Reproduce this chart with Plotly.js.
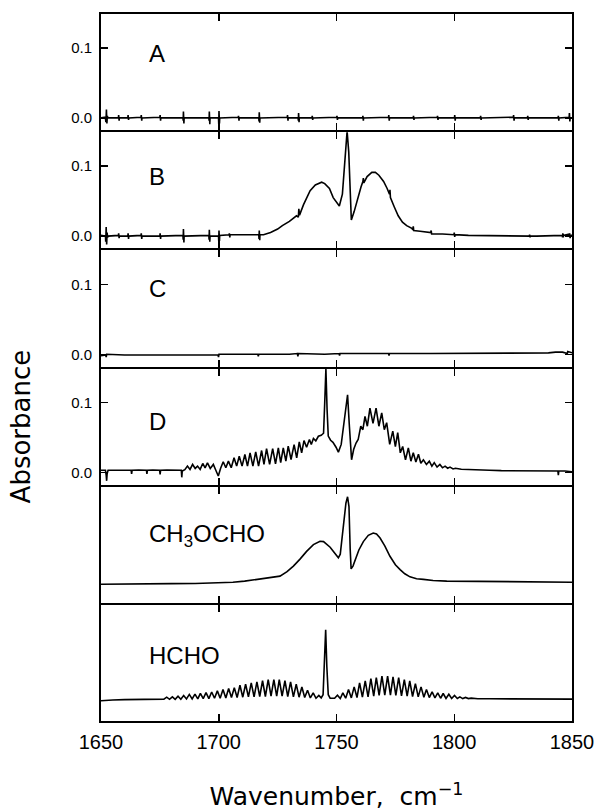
<!DOCTYPE html>
<html>
<head>
<meta charset="utf-8">
<script src="https://cdn.plot.ly/plotly-3.0.1.min.js"></script>
<style>html,body{margin:0;padding:0;background:#fff;}#chart{width:595px;height:811px;}</style>
</head>
<body>
<div id="chart"></div>
<script>
// ---- data: [wavenumber (cm^-1), absorbance] ----
const panelA = [[1650,0],[1651.8,0.001],[1652.1,-0.006],[1652.3,0.012],[1652.5,-0.008],[1652.7,0.003],[1652.9,0],[1657.4,0],[1657.5,0.004],[1657.7,-0.004],[1657.8,0],[1661.4,0],[1661.5,0.004],[1661.7,-0.003],[1661.8,0],[1667.0,0.001],[1667.1,0.004],[1667.3,-0.004],[1667.4,0],[1675.0,0.001],[1675.1,0.004],[1675.3,-0.004],[1675.4,0],[1684.8,0],[1684.9,-0.004],[1685.0,0.009],[1685.2,-0.008],[1685.3,0],[1695.8,0],[1695.9,-0.004],[1696.0,0.009],[1696.2,-0.009],[1696.3,0],[1699.9,0],[1700.0,-0.009],[1700.1,0.01],[1700.3,-0.008],[1700.4,0],[1708.3,0.001],[1708.4,0.003],[1708.6,-0.004],[1708.7,0],[1717.0,0],[1717.1,-0.005],[1717.2,0.008],[1717.4,-0.007],[1717.5,0],[1729.1,0.001],[1729.2,0.004],[1729.4,-0.004],[1729.5,0],[1733.7,0],[1733.8,-0.004],[1733.9,0.007],[1734.1,-0.006],[1734.2,0],[1739.6,0],[1739.7,0.003],[1739.9,-0.003],[1740,0],[1750.1,0.001],[1750.2,0.003],[1750.4,-0.003],[1750.5,0],[1761.1,0],[1761.2,0.003],[1761.4,-0.004],[1761.5,0],[1772.1,0.001],[1772.2,0.004],[1772.4,-0.004],[1772.5,0],[1782.6,0],[1782.7,0.003],[1782.9,-0.003],[1783,0],[1792.8,0.001],[1792.9,0.003],[1793.1,-0.003],[1793.2,0],[1800.1,0],[1800.2,0.004],[1800.4,-0.004],[1800.5,0],[1811.1,0],[1811.2,0.003],[1811.4,-0.003],[1811.5,0],[1825.1,0.001],[1825.2,0.004],[1825.4,-0.004],[1825.5,0],[1831.1,0],[1831.2,0.003],[1831.4,-0.003],[1831.5,0],[1844.1,0],[1844.2,0.003],[1844.4,-0.004],[1844.5,0],[1848.8,0.001],[1848.9,0.007],[1849.1,-0.005],[1849.2,0],[1850,0]];

const panelB = [[1650,0.001],[1651.9,0],[1652.0,-0.008],[1652.2,0.013],[1652.4,-0.012],[1652.6,0.005],[1652.8,-0.002],[1653,0],[1657.4,0.001],[1657.5,0.004],[1657.7,-0.003],[1657.8,0],[1661.4,0],[1661.5,0.004],[1661.7,-0.004],[1661.8,0],[1667.0,0.001],[1667.1,0.004],[1667.3,-0.004],[1667.4,0],[1675.0,0],[1675.1,0.004],[1675.3,-0.004],[1675.4,0],[1684.8,0.001],[1684.9,-0.005],[1685.0,0.01],[1685.2,-0.009],[1685.3,0],[1695.8,0.001],[1695.9,-0.005],[1696.0,0.009],[1696.2,-0.008],[1696.3,0],[1699.9,0],[1700.0,-0.007],[1700.1,0.008],[1700.3,-0.007],[1700.4,0.001],[1704.4,0.002],[1704.5,0.004],[1704.7,-0.002],[1704.8,0.002],[1710,0.002],[1714,0.002],[1717.0,0.002],[1717.1,-0.004],[1717.2,0.008],[1717.4,-0.006],[1717.5,0.002],[1719,0.002],[1722,0.005],[1725,0.01],[1727,0.015],[1730,0.021],[1733,0.029],[1733.8,0.027],[1734.0,0.039],[1734.3,0.03],[1736,0.045],[1738.8,0.065],[1741,0.073],[1743.7,0.077],[1745,0.075],[1747,0.068],[1748.6,0.055],[1750.3,0.047],[1751.2,0.043],[1752.5,0.06],[1753.6,0.11],[1754.5,0.15],[1755.2,0.12],[1755.8,0.05],[1756.3,0.023],[1757.5,0.035],[1759,0.055],[1760.4,0.07],[1761.2,0.078],[1761.4,0.083],[1761.6,0.076],[1763,0.085],[1765,0.091],[1766.5,0.091],[1768,0.087],[1770,0.078],[1771.5,0.068],[1772.5,0.06],[1772.7,0.066],[1772.9,0.055],[1774.5,0.042],[1776.2,0.029],[1778,0.02],[1779.8,0.015],[1782,0.011],[1782.4,0.009],[1782.6,0.014],[1782.8,0.008],[1785.5,0.007],[1789,0.006],[1790,0.005],[1790.2,0.008],[1790.4,0.003],[1795,0.003],[1799.9,0.002],[1800.0,0.005],[1800.2,-0.001],[1800.3,0.002],[1806,0.001],[1810,0.001],[1815,0],[1820,0.001],[1825,0],[1831.9,0],[1832.0,0.002],[1832.2,-0.002],[1832.3,0],[1835,0],[1840,0],[1845.9,0.001],[1846.0,-0.002],[1846.1,0.004],[1846.3,-0.002],[1846.4,0.001],[1848.9,0.002],[1849.0,0.003],[1849.2,-0.003],[1849.3,0.001],[1850,0.001]];

const panelC = [[1650,-0.002],[1652,-0.001],[1652.2,-0.004],[1652.4,0],[1660,-0.001],[1670,-0.001],[1680,-0.001],[1690,-0.001],[1699.7,-0.001],[1699.9,-0.004],[1700.1,0],[1710,0],[1716.6,0],[1716.8,-0.003],[1717.0,0],[1730,0],[1733.4,0.001],[1733.6,-0.003],[1733.8,0.001],[1745,0],[1751.1,0.001],[1751.3,-0.002],[1751.5,0.001],[1765,0.001],[1772.1,0.001],[1772.3,-0.002],[1772.5,0.001],[1790,0.001],[1810,0.001],[1830,0.001],[1840,0.002],[1843,0.003],[1846,0.003],[1848,0.001],[1848.2,0.004],[1850,0.002]];

const panelD = [[1650,0.003],[1651.9,0.003],[1652.2,-0.004],[1652.4,-0.012],[1652.6,-0.002],[1653.0,0.003],[1656,0.003],[1660,0.0035],[1662.8,0.003],[1663,-0.002],[1663.2,0.003],[1666,0.0035],[1669.3,0.003],[1669.5,-0.002],[1669.7,0.003],[1672,0.0035],[1674.9,0.003],[1675.1,-0.003],[1675.3,0.003],[1678,0.0035],[1681,0.003],[1684.1,0.003],[1684.3,-0.007],[1684.5,0.002],[1685.6,0.004],[1686.7,0.009],[1687.8,0.0043],[1688.9,0.0114],[1690,0.0057],[1691.0,0.009],[1692.1,0.0043],[1693.2,0.0128],[1694.2,0.0066],[1695.2,0.0137],[1696.4,0.0057],[1697.7,0.0114],[1698.8,0.0028],[1699.8,-0.0052],[1700.8,0.006],[1701.9,0.0152],[1703,0.0066],[1704.1,0.0161],[1705.3,0.0066],[1706.5,0.0209],[1707.6,0.009],[1708.7,0.0232],[1709.9,0.009],[1711.1,0.0256],[1712.2,0.009],[1713.3,0.028],[1714.5,0.009],[1715.7,0.0294],[1716.9,0.009],[1718.2,0.0313],[1719.2,0.0114],[1720.3,0.0341],[1721.6,0.0114],[1722.9,0.0341],[1724.1,0.0123],[1725.3,0.0351],[1726.3,0.014],[1727.4,0.0351],[1728.5,0.0161],[1729.5,0.0375],[1730.7,0.0185],[1732.0,0.0398],[1733.1,0.0209],[1734.2,0.0436],[1735.2,0.028],[1736.2,0.0455],[1737.3,0.036],[1738.5,0.047],[1739.3,0.040],[1740.2,0.0484],[1741.2,0.045],[1742.3,0.0517],[1743.5,0.053],[1744.5,0.056],[1745.0,0.10],[1745.5,0.148],[1746.0,0.09],[1746.5,0.052],[1747.5,0.046],[1748.5,0.043],[1749.8,0.036],[1750.8,0.029],[1752,0.04],[1753.3,0.075],[1754.7,0.111],[1755.4,0.07],[1756.4,0.018],[1757.3,0.033],[1758.3,0.042],[1759.2,0.047],[1760.3,0.066],[1761.2,0.061],[1762.1,0.080],[1763.1,0.066],[1764.2,0.092],[1765.5,0.07],[1766.8,0.092],[1768,0.066],[1769.2,0.085],[1770.3,0.061],[1771.3,0.071],[1772.6,0.040],[1773.9,0.059],[1775,0.037],[1776.0,0.057],[1777.1,0.028],[1778.1,0.037],[1779.3,0.018],[1780.5,0.035],[1781.6,0.016],[1782.6,0.028],[1783.7,0.015],[1784.8,0.026],[1785.8,0.013],[1786.9,0.018],[1788.2,0.0114],[1789.4,0.016],[1790.5,0.009],[1791.5,0.014],[1792.7,0.0076],[1793.9,0.0114],[1795,0.0066],[1796.1,0.009],[1797.2,0.006],[1798.2,0.0076],[1799.5,0.005],[1800.5,0.006],[1803,0.0045],[1806,0.004],[1810,0.003],[1815,0.003],[1820,0.0025],[1825,0.0025],[1830,0.002],[1835,0.002],[1840,0.002],[1844.0,0.002],[1844.2,-0.004],[1844.4,0.002],[1847,0.002],[1850,0.001]];

const panelCH3OCHO = [[1650,0.009],[1660,0.009],[1670,0.0095],[1680,0.010],[1690,0.0102],[1700,0.0107],[1706,0.012],[1711,0.0135],[1715,0.0152],[1719,0.0168],[1723,0.0185],[1726,0.0206],[1729,0.027],[1731.7,0.035],[1734.5,0.045],[1737.3,0.056],[1740.2,0.0657],[1743,0.0704],[1744.5,0.070],[1745.8,0.0665],[1747.3,0.062],[1748.7,0.056],[1750,0.05],[1750.8,0.0468],[1751.6,0.052],[1752.9,0.087],[1754,0.125],[1754.7,0.134],[1755.3,0.12],[1755.8,0.06],[1756.2,0.031],[1757,0.035],[1757.9,0.044],[1759.5,0.058],[1761.4,0.070],[1763.5,0.079],[1765.6,0.0823],[1767,0.081],[1768.5,0.0752],[1770.5,0.064],[1772.7,0.049],[1775,0.037],[1777,0.030],[1779,0.024],[1781.2,0.0196],[1784,0.017],[1786.9,0.016],[1791,0.0145],[1796.8,0.0135],[1810,0.013],[1820,0.0125],[1830,0.0125],[1840,0.012],[1850,0.012]];

const panelHCHO = [[1650,0.0114],[1652,0.012],[1655,0.0125],[1660,0.013],[1665,0.0135],[1670,0.0137],[1674,0.0137],[1676.7,0.0137],[1677.9,0.0165],[1679.1,0.0135],[1680.3,0.017],[1681.5,0.0135],[1682.7,0.018],[1683.9,0.0135],[1685.1,0.019],[1686.3,0.014],[1687.5,0.0205],[1688.7,0.014],[1689.9,0.021],[1691.1,0.014],[1692.2,0.022],[1693.4,0.0145],[1694.6,0.023],[1695.8,0.0145],[1697.0,0.024],[1698.2,0.015],[1699.4,0.0256],[1700.6,0.015],[1701.8,0.0275],[1703.0,0.0155],[1704.2,0.029],[1705.4,0.016],[1706.6,0.030],[1707.8,0.016],[1709.0,0.0336],[1710.2,0.0165],[1711.4,0.035],[1712.6,0.017],[1713.8,0.037],[1715.0,0.017],[1716.2,0.0384],[1717.4,0.0175],[1718.6,0.040],[1719.8,0.0175],[1721.0,0.0415],[1722.2,0.018],[1723.4,0.0417],[1724.6,0.018],[1725.7,0.0417],[1726.9,0.018],[1728.1,0.040],[1729.3,0.0175],[1730.5,0.0384],[1731.7,0.017],[1732.9,0.035],[1734.1,0.0165],[1735.3,0.031],[1736.5,0.016],[1737.7,0.0265],[1738.9,0.0155],[1740.1,0.0227],[1741.3,0.015],[1742.5,0.019],[1743.5,0.0155],[1744.3,0.02],[1744.9,0.06],[1745.4,0.1128],[1745.9,0.06],[1746.5,0.02],[1747.3,0.015],[1748.3,0.0145],[1749.2,0.015],[1750.4,0.0194],[1751.6,0.0145],[1752.7,0.0227],[1753.9,0.015],[1755.1,0.0275],[1756.3,0.0155],[1757.5,0.0313],[1758.7,0.016],[1759.8,0.037],[1761.0,0.0165],[1762.2,0.0398],[1763.4,0.017],[1764.6,0.0431],[1765.8,0.018],[1766.9,0.0446],[1768.1,0.019],[1769.3,0.0465],[1770.5,0.0195],[1771.7,0.0465],[1772.9,0.0195],[1774.0,0.0455],[1775.2,0.019],[1776.4,0.0446],[1777.6,0.0185],[1778.8,0.0417],[1780.0,0.018],[1781.1,0.0398],[1782.3,0.0175],[1783.5,0.036],[1784.7,0.017],[1785.9,0.0313],[1787.1,0.0165],[1788.2,0.0275],[1789.4,0.016],[1790.6,0.0242],[1791.8,0.0155],[1793.0,0.0227],[1794.2,0.015],[1795.3,0.0218],[1796.5,0.0148],[1797.7,0.0208],[1798.9,0.0147],[1800.1,0.0189],[1801.3,0.0146],[1802.4,0.017],[1803.6,0.0145],[1804.8,0.0161],[1806,0.0145],[1807.2,0.0152],[1810,0.0143],[1815,0.0142],[1820,0.014],[1830,0.014],[1840,0.0138],[1850,0.0137]];

const panelLabels = ['A', 'B', 'C', 'D', 'CH<sub>3</sub>OCHO', 'HCHO'];
const xTickVals = [1650, 1700, 1750, 1800, 1850];
const xTickText = ['1650', '1700', '1750', '1800', '1850'];
const yTickVals = [0, 0.1];
const yTickText = ['0.0', '0.1'];
const xTitle = 'Wavenumber,  cm<sup>−1</sup>';
const yTitle = 'Absorbance';

// ---- build figure ----
const panels = [panelA, panelB, panelC, panelD, panelCH3OCHO, panelHCHO];
const labelY = [0.66, 0.62, 0.67, 0.54, 0.58, 0.56];
const N = panels.length;
const TICKFONT = 'Liberation Sans, Arial, sans-serif';
const TITLEFONT = 'DejaVu Sans, sans-serif';

// plot area in pixels: top 13, bottom 722 (paper coordinates)
const TOP = 13, BOT = 722, H = BOT - TOP;
const LW = 2;
const frac = py => (BOT - py) / H;

const traces = panels.map((p, i) => ({
  type: 'scatter', mode: 'lines',
  x: p.map(d => d[0]), y: p.map(d => d[1]),
  xaxis: 'x' + (i + 1), yaxis: 'y' + (i + 1),
  line: {color: '#000', width: 1.6},
  hoverinfo: 'skip'
}));

const layout = {
  width: 595, height: 811,
  margin: {l: 101, r: 23, t: TOP, b: 811 - BOT},
  paper_bgcolor: '#fff', plot_bgcolor: '#fff',
  showlegend: false,
  font: {family: TICKFONT, color: '#000'},
  annotations: []
};

for (let i = 0; i < N; i++) {
  const k = i + 1;
  const sfx = k === 1 ? '' : String(k);
  const isBottom = k === N;
  const hasY = k <= 4;
  const pTop = TOP + H * i / N + LW / 2;
  const pBot = TOP + H * (i + 1) / N - LW / 2;
  layout['xaxis' + sfx] = {
    anchor: 'y' + k, domain: [0, 1], range: [1650, 1850],
    tickmode: 'array', tickvals: xTickVals, ticktext: xTickText,
    ticks: 'inside', ticklen: 7, tickwidth: 1.5, tickcolor: '#000',
    showline: true, linewidth: LW, linecolor: '#000', mirror: 'allticks',
    showgrid: false, zeroline: false,
    showticklabels: isBottom,
    ticklabeloverflow: 'allow',
    tickfont: {family: TICKFONT, size: 20, color: '#000'},
    ticklabelstandoff: 2
  };
  if (isBottom) {
    layout['xaxis' + sfx].title = {text: xTitle, font: {family: TITLEFONT, size: 25, color: '#000'}, standoff: 42};
  }
  layout['yaxis' + sfx] = {
    anchor: 'x' + k,
    domain: [frac(pBot), frac(pTop)],
    range: [-0.0175, 0.1485],
    tickmode: 'array', tickvals: hasY ? yTickVals : [], ticktext: hasY ? yTickText : [],
    ticks: hasY ? 'inside' : '', ticklen: 7, tickwidth: 1.5, tickcolor: '#000',
    showline: true, linewidth: LW, linecolor: '#000', mirror: hasY ? 'allticks' : true,
    showgrid: false, zeroline: false,
    showticklabels: hasY,
    tickfont: {family: TICKFONT, size: 15, color: '#000'},
    ticklabelstandoff: 4
  };
  if (k === 4) {
    layout['yaxis' + sfx].title = {text: yTitle, font: {family: TITLEFONT, size: 26, color: '#000'}, standoff: 33};
  }
  layout.annotations.push({
    text: panelLabels[i], xref: 'x' + k, yref: 'y' + k + ' domain',
    x: 1669.5, y: labelY[i], xanchor: 'left', yanchor: 'middle',
    showarrow: false, font: {family: TICKFONT, size: 24, color: '#000'}
  });
}

Plotly.newPlot('chart', traces, layout, {staticPlot: true, displayModeBar: false});
</script>
</body>
</html>
